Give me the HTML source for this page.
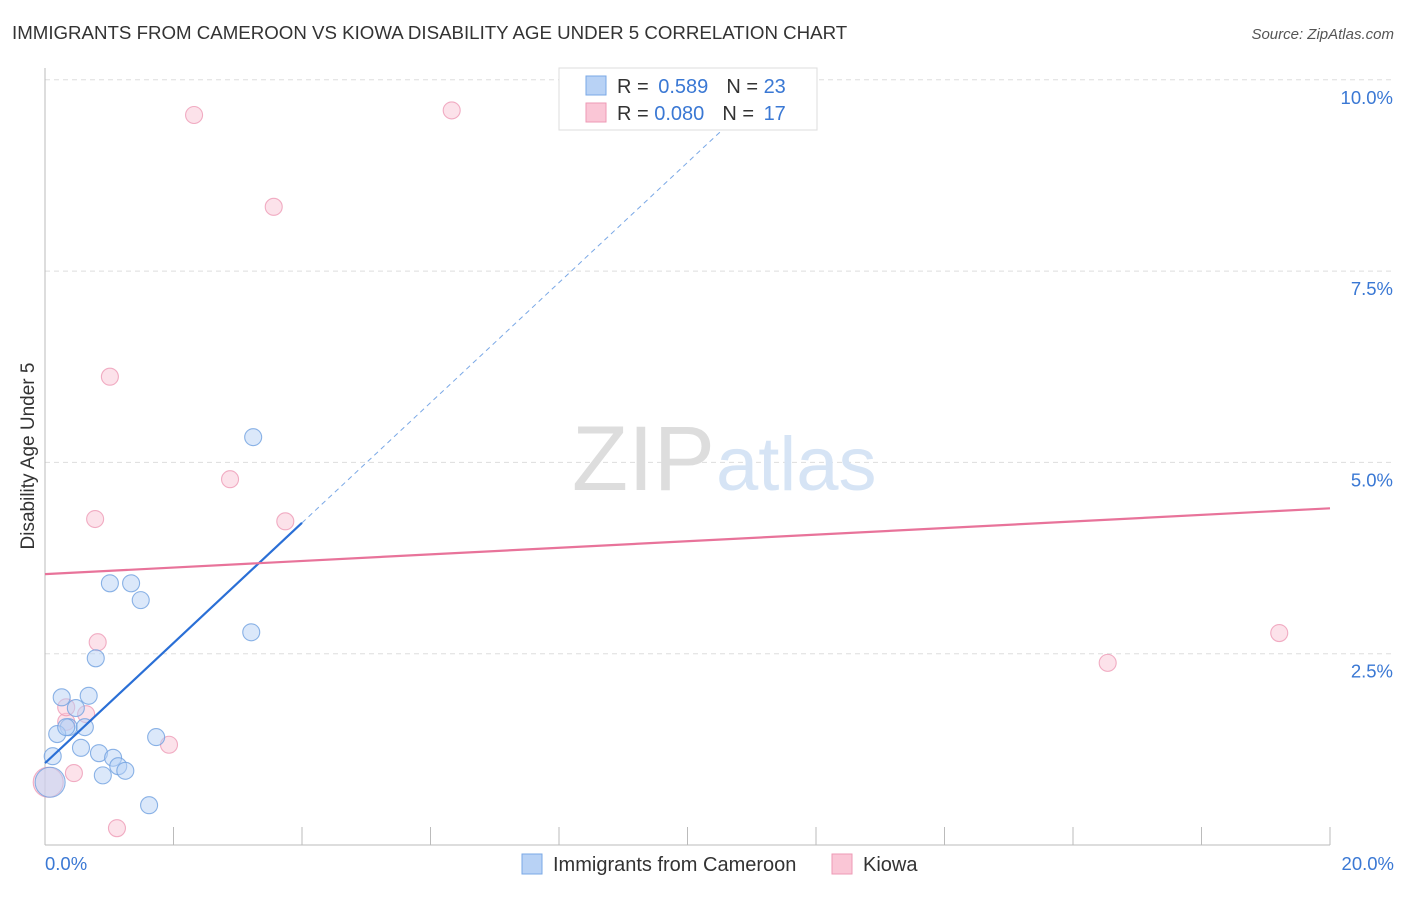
<!DOCTYPE html>
<html><head><meta charset="utf-8"><style>
body{margin:0;background:#fff;font-family:"Liberation Sans",sans-serif;}
svg text{font-family:"Liberation Sans",sans-serif;}
</style></head><body>
<svg id="chart" width="1406" height="892">
<text x="12" y="39" font-size="18.7" fill="#333">IMMIGRANTS FROM CAMEROON VS KIOWA DISABILITY AGE UNDER 5 CORRELATION CHART</text>
<text x="1394" y="39" font-size="15" fill="#555" font-style="italic" text-anchor="end">Source: ZipAtlas.com</text>
<text x="34" y="456" font-size="19" fill="#333" transform="rotate(-90 34 456)" text-anchor="middle">Disability Age Under 5</text>
<g id="grid"></g>
<text x="715" y="490" font-size="92" fill="#ddd" text-anchor="end" font-family="Liberation Serif">ZIP</text>
<text x="716" y="490" font-size="76" fill="#d6e4f5">atlas</text>
<g id="marks"></g>
<g>
<rect x="559" y="68" width="258" height="62" fill="#fff" stroke="#ddd"/>
<rect x="586" y="76" width="20" height="19" fill="#b8d2f5" stroke="#7aa8e6"/>
<rect x="586" y="103" width="20" height="19" fill="#fac6d6" stroke="#ee9ab5"/>
<text x="617" y="93" font-size="20" fill="#333">R = <tspan fill="#3a78d4" dx="4">0.589</tspan><tspan dx="18">N = </tspan><tspan fill="#3a78d4">23</tspan></text>
<text x="617" y="120" font-size="20" fill="#333">R = <tspan fill="#3a78d4">0.080</tspan><tspan dx="18">N = </tspan><tspan fill="#3a78d4" dx="4">17</tspan></text>
</g>
<g>
<rect x="522" y="854" width="20" height="20" fill="#b8d2f5" stroke="#7aa8e6"/>
<text x="553" y="871" font-size="20" fill="#333">Immigrants from Cameroon</text>
<rect x="832" y="854" width="20" height="20" fill="#fac6d6" stroke="#ee9ab5"/>
<text x="863" y="871" font-size="20" fill="#333">Kiowa</text>
</g>
</svg>
<script>
const blueX=[1.01,1.34,1.49,3.21,3.24,0.79,0.26,0.68,0.48,0.37,0.19,0.62,0.12,0.56,0.84,1.06,1.14,1.25,0.90,1.73,1.62,0.08,0.33];
const blueY=[3.42,3.42,3.20,2.78,5.33,2.44,1.93,1.95,1.79,1.54,1.45,1.54,1.16,1.27,1.20,1.14,1.03,0.97,0.91,1.41,0.52,0.82,1.54];
const pinkX=[2.32,6.33,3.56,1.01,2.88,0.78,3.74,0.82,0.33,0.64,0.33,1.93,0.45,0.05,1.12,16.54,19.21];
const pinkY=[9.54,9.60,8.34,6.12,4.78,4.26,4.23,2.65,1.61,1.71,1.80,1.31,0.94,0.82,0.22,2.38,2.77];
const blueTrend=[1.07,0.785];
const pinkTrend=[3.54,0.043];
const yTicks=[2.5,5.0,7.5,10.0];
const xTicks=[0,2,4,6,8,10,12,14,16,18,20];
const NS="http://www.w3.org/2000/svg";
const X=v=>45+v*64.25, Y=v=>845-v*76.52;
function mk(p,t,a){const e=document.createElementNS(NS,t);for(const k in a)e.setAttribute(k,a[k]);p.appendChild(e);return e;}
const g=document.getElementById('grid'), m=document.getElementById('marks');
for(const t of yTicks){
 const l=mk(g,'line',{x1:45,x2:1392,y1:Y(t),y2:Y(t),stroke:'#ddd','stroke-dasharray':'5,4'});
 
 
 const tx=mk(g,'text',{x:1393,y:Y(t)+24,'font-size':18.5,fill:'#3a78d4','text-anchor':'end'});
 tx.textContent=t.toFixed(1)+'%';
 
 
}
const ax=mk(g,'line',{x1:45,x2:45,y1:68,y2:845,stroke:'#bbb'});


const bx=mk(g,'line',{x1:45,x2:1330,y1:845,y2:845,stroke:'#bbb'});


for(const t of xTicks){
 const l=mk(g,'line',{x1:X(t),x2:X(t),y1:827,y2:845,stroke:'#bbb'});
 
 
}
[[0,'0.0%','start',45],[20,'20.0%','end',1394]].forEach(([v,s,a,x])=>{
 const tx=mk(g,'text',{x:x,y:870,'font-size':18.5,fill:'#3a78d4','text-anchor':a});
 tx.textContent=s;
 
 
});
function dots(xs,ys,fill,stroke,name){
 xs.forEach((x,i)=>{
  const big=x<0.1;
  const c=mk(m,'circle',{cx:X(x),cy:Y(ys[i]),r:big?15:8.5,fill:fill,'fill-opacity':0.5,stroke:stroke,'stroke-width':1.1,'stroke-opacity':0.8});
  
  
 });
}
dots(pinkX,pinkY,'#fac6d6','#ee9ab5','kiowa-point');
dots(blueX,blueY,'#b8d2f5','#6fa0e0','cameroon-point');
const xEnd=4.0, xDash=(9.4-blueTrend[0])/blueTrend[1];
const bl=mk(m,'line',{x1:X(0),y1:Y(blueTrend[0]),x2:X(xEnd),y2:Y(blueTrend[0]+blueTrend[1]*xEnd),stroke:'#2a6fd6','stroke-width':2.2});


const bd=mk(m,'line',{x1:X(xEnd),y1:Y(blueTrend[0]+blueTrend[1]*xEnd),x2:X(xDash),y2:Y(9.4),stroke:'#7aa8e6','stroke-width':1,'stroke-dasharray':'5,4'});


const pl=mk(m,'line',{x1:X(0),y1:Y(pinkTrend[0]),x2:X(20),y2:Y(pinkTrend[0]+pinkTrend[1]*20),stroke:'#e8739a','stroke-width':2.2});


</script>
</body></html>
